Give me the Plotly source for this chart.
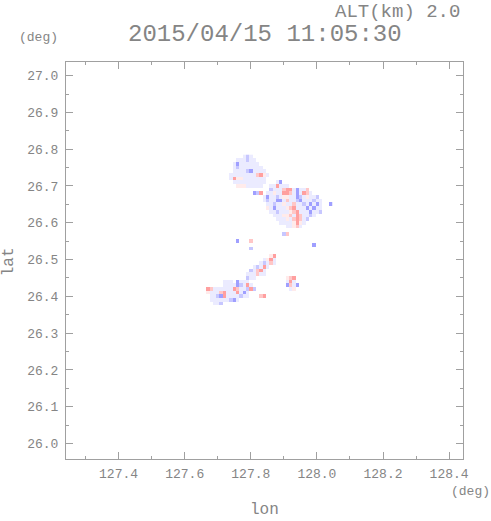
import plotly.graph_objects as go

# ---- data: Doppler velocity field at ALT 2.0 km ----
# grid of cells, 0.01 deg spacing
grid_lon = [round(127.64 + 0.01 * i, 2) for i in range(41)]
grid_lat = [round(26.78 - 0.01 * j, 2) for j in range(43)]

# symbol -> velocity class (m/s, approximate)
velocity_code = {'o': -0.6, 'p': 0.6, '1': -1.7, '2': -2.9, 'a': 1.7, 'b': 2.9}

# rows from north (26.78) to south (26.36); '.' = no echo
velocity_rows = [
    "..............o1o",
    "............ooo1oo",
    "...........o2oooooo",
    "...........o1ooooooo",
    "...........oooo12oooo",
    "..........ooooooooabpo",
    "..........obppooooooo",
    "...........oooooooooo...o2",
    "............pppooooo..oobooo",
    "......................1oooabbo2ooa",
    ".................21b.oopoobbao2obao",
    "....................o2oo1oppoo21opoo1",
    "....................o1oo22oaoo12ooo1oo",
    ".....................oo1oopooaoo1o2o2o..2",
    ".....................po2ooopabooo2o2oo",
    "......................oo1ooopabooo2oo1",
    ".......................oooppaobaoo1o",
    "........................ooopoabao1",
    ".........................oooopbpo",
    "...........................oopao",
    "",
    "..........................1a",
    "",
    "............2...a",
    "...................................2",
    "................1",
    "",
    "......................pb",
    "....................opbo",
    "...................o1oao",
    ".................o1obo",
    "................1oabo",
    "...............oooaoo",
    "...............1oo.........pab",
    "........ooo.2ooo...........obo",
    "........oooo21obo..........2ao2",
    "...baoooooobaoo1b1..........op",
    "...poooabooobo2o",
    "....oo12boooo1oo...ab",
    "....oooooo12o",
    ".....oo1",
    "",
    "",
]

x_ticks = [127.4, 127.6, 127.8, 128.0, 128.2, 128.4]
x_tick_labels = ["127.4", "127.6", "127.8", "128.0", "128.2", "128.4"]
y_ticks = [26.0, 26.1, 26.2, 26.3, 26.4, 26.5, 26.6, 26.7, 26.8, 26.9, 27.0]
y_tick_labels = ["26.0", "26.1", "26.2", "26.3", "26.4", "26.5", "26.6", "26.7", "26.8", "26.9", "27.0"]

# ---- build z grid ----
z = []
for row in velocity_rows:
    row = row.ljust(len(grid_lon), '.')[:len(grid_lon)]
    z.append([velocity_code.get(ch) for ch in row])

FONT = "Liberation Mono"
GREY = "#858585"
AXC = "#a0a0a0"

fig = go.Figure()
fig.add_trace(go.Heatmap(
    x=grid_lon, y=grid_lat, z=z,
    zmin=-5, zmax=5,
    colorscale=[[0, "#5a5aff"], [0.5, "#ffffff"], [1, "#ff5a5a"]],
    showscale=False, hoverinfo="skip",
))

axis_common = dict(
    showgrid=False, zeroline=False, showline=True, linecolor=AXC, linewidth=1,
    mirror="ticks", ticks="inside", ticklen=7, tickcolor=AXC, tickwidth=1,
    tickfont=dict(family=FONT, size=13, color=GREY),
)
fig.update_xaxes(
    range=[127.241, 128.442], tickvals=x_ticks, ticktext=x_tick_labels,
    minor=dict(dtick=0.1, tick0=127.4, ticks="inside", ticklen=3, tickcolor=AXC),
    ticklabelstandoff=2, **axis_common,
)
fig.update_yaxes(
    range=[25.958, 27.037], tickvals=y_ticks, ticktext=y_tick_labels,
    minor=dict(dtick=0.05, tick0=26.0, ticks="inside", ticklen=3, tickcolor=AXC),
    ticklabelstandoff=4, **axis_common,
)

ann = [
    dict(text="2015/04/15 11:05:30", x=0.501, y=1.069, size=24, xanchor="center"),
    dict(text="ALT(km) 2.0", x=0.9975, y=1.126, size=19, xanchor="right"),
    dict(text="(deg)", x=-0.0705, y=1.0605, size=13, xanchor="center"),
    dict(text="(deg)", x=1.020, y=-0.0831, size=13, xanchor="center"),
    dict(text="lon", x=0.501, y=-0.128, size=16, xanchor="center"),
]
annotations = [
    dict(text=a["text"], x=a["x"], y=a["y"], xref="paper", yref="paper",
         xanchor=a["xanchor"], yanchor="middle", showarrow=False,
         font=dict(family=FONT, size=a["size"], color=GREY))
    for a in ann
]
annotations.append(dict(text="lat", x=-0.143, y=0.496, xref="paper", yref="paper",
                        xanchor="center", yanchor="middle", showarrow=False, textangle=-90,
                        font=dict(family=FONT, size=16, color=GREY)))

fig.update_layout(
    width=491, height=521,
    margin=dict(l=66, r=28, t=62, b=62),
    paper_bgcolor="white", plot_bgcolor="white",
    annotations=annotations, showlegend=False,
)

# remove the default 8px page margin so the figure sits at the window corner
fig.write_html(
    "out.html",
    config={"displayModeBar": False},
    post_script="document.body.style.margin='0';document.body.style.overflow='hidden';",
)
